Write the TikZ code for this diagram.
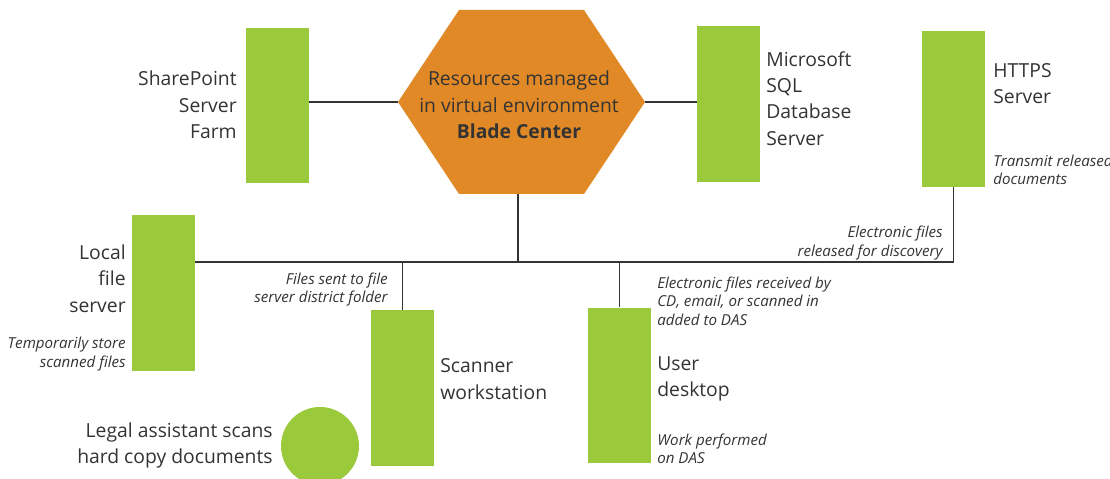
\documentclass[tikz,border=0pt]{standalone}
\usepackage{fontspec}
\setmainfont{Open Sans}
\usetikzlibrary{positioning,calc}
\definecolor{srvgreen}{RGB}{154,201,59}
\definecolor{bladeorange}{RGB}{224,137,38}
\definecolor{inkgray}{RGB}{51,51,51}
\tikzset{
    server/.style={
        fill=srvgreen,
        rectangle,
        inner sep=0pt,
        minimum width=1.26cm,
        minimum height=3.12cm
    },
    disc/.style={
        fill=srvgreen,
        circle,
        inner sep=0pt,
        minimum size=1.56cm
    },
    caption/.style={
        text=inkgray,
        inner sep=0pt,
        font=\fontsize{11}{15}\selectfont
    },
    note/.style={
        text=inkgray,
        inner sep=0pt,
        font=\fontsize{8.6}{10.5}\selectfont\itshape
    },
    link/.style={
        draw=inkgray,
        line width=1.1pt
    },
}
\begin{document}
\begin{tikzpicture}[x=0.02cm, y=-0.02cm]
    \useasboundingbox (0,0) rectangle (1110,479);
    % blocks
    \node[server] (sp) at (277.5,105.5) {};
    \node[server] (sql) at (728.5,104) {};
    \node[server] (https) at (953.5,109) {};
    \node[server] (lfs) at (163.5,293) {};
    \node[server] (scan) at (402.5,388) {};
    \node[server] (user) at (619.5,385.5) {};
    \node[disc] (legal) at (320,446) {};
    % blade center hexagon
    \coordinate (hexW) at (398,102);
    \coordinate (hexE) at (645,102);
    \coordinate (hexS) at (518,194);
    \fill[bladeorange] (hexW) -- (459,10) -- (584,10) -- (hexE) -- (584,194) -- (459,194) -- cycle;
    \node[caption, align=center] (blade) at (519,105) {Resources managed\\in virtual environment\\\textbf{Blade Center}};

    % texts
    \node[caption, align=right, anchor=east] (spText) at (237,105) {SharePoint\\Server\\Farm};
    \node[caption, align=left, anchor=west] (sqlText) at (766,98.5) {Microsoft\\SQL\\Database\\Server};
    \node[caption, align=left, anchor=west] (httpsText) at (993,83.5) {HTTPS\\Server};
    \node[note, align=left, anchor=west] (httpsNote) at (993,170) {Transmit released\\documents};
    \node[caption, align=right, anchor=east] (lfsText) at (126,278.5) {Local\\file\\server};
    \node[note, align=right, anchor=east] (lfsNote) at (126,354) {Temporarily store\\scanned files};
    \node[caption, align=left, anchor=west] (scanText) at (440,379) {Scanner\\workstation};
    \node[caption, align=left, anchor=west] (userText) at (657,379) {User\\desktop};
    \node[note, align=left, anchor=west] (userNote) at (657,449) {Work performed\\on DAS};
    \node[caption, align=right, anchor=east] (legalText) at (273,445.5) {Legal assistant scans\\hard copy documents};

    % bus
    \coordinate (bus) at (518,262);
    \node[note, align=right, anchor=east] (sentNote) at (388,289.5) {Files sent to file\\server district folder};
    \node[note, align=right, anchor=east] (releasedNote) at (943,243) {Electronic files\\released for discovery};
    \node[note, align=left, anchor=west] (receivedNote) at (657,301) {Electronic files received by\\CD, email, or scanned in\\added to DAS};

    % lines
    \draw[link] (sp.east |- hexW) -- (hexW);
    \draw[link] (hexE) -- (hexE -| sql.west);
    \draw[link] (hexS) -- (bus);
    \draw[link] (lfs.east |- bus) -- (bus -| https.south) -- (https.south);
    \draw[link] (scan.north |- bus) -- (scan.north);
    \draw[link] (user.north |- bus) -- (user.north);
\end{tikzpicture}
\end{document}
